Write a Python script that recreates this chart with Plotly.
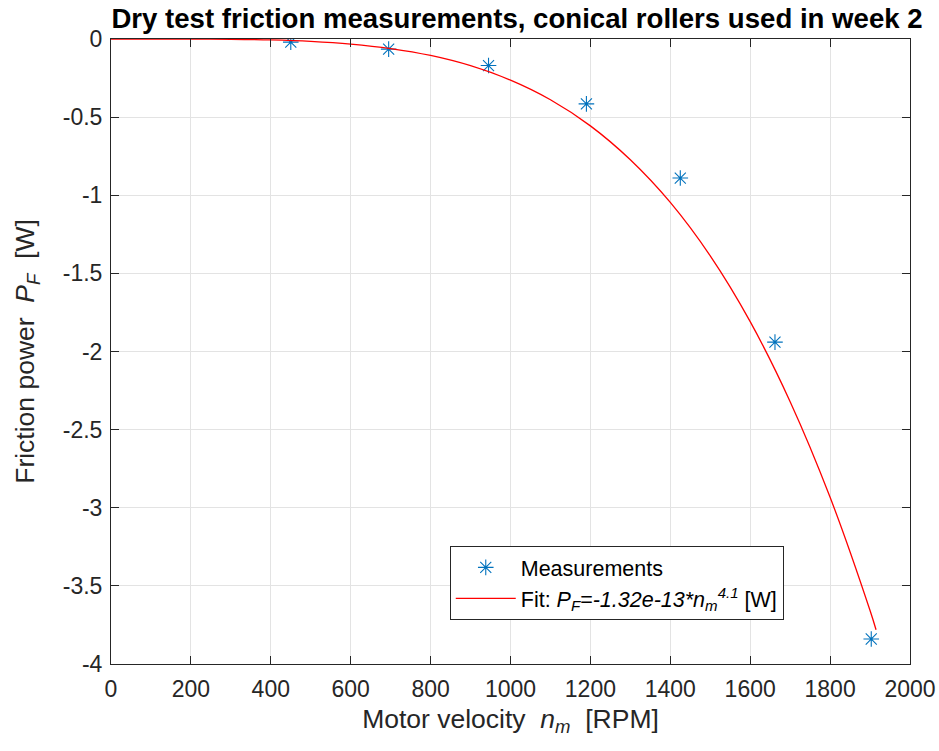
import plotly.graph_objects as go

# Measurements
meas_rpm = [450, 695, 945, 1190, 1425, 1662, 1903]
meas_power = [-0.02, -0.065, -0.17, -0.415, -0.89, -1.94, -3.84]

# Fit curve values
fit_rpm = [0, 100, 200, 300, 400, 500, 600, 700, 800, 900, 1000, 1100, 1200,
           1300, 1400, 1500, 1600, 1700, 1800, 1900, 1915]
fit_power = [0.0, -0.00002, -0.0004, -0.0019, -0.0062, -0.0154, -0.0324, -0.0611,
             -0.1055, -0.171, -0.2635, -0.389, -0.556, -0.773, -1.046, -1.388,
             -1.809, -2.321, -2.933, -3.658, -3.781]

x_ticks = [0, 200, 400, 600, 800, 1000, 1200, 1400, 1600, 1800, 2000]
x_tick_text = ["0", "200", "400", "600", "800", "1000", "1200", "1400", "1600", "1800", "2000"]
y_ticks = [0, -0.5, -1, -1.5, -2, -2.5, -3, -3.5, -4]
y_tick_text = ["0", "-0.5", "-1", "-1.5", "-2", "-2.5", "-3", "-3.5", "-4"]

FONT = "Liberation Sans, Arial, Helvetica, sans-serif"

fig = go.Figure()
fig.add_trace(go.Scatter(
    x=meas_rpm, y=meas_power, mode="markers", name="Measurements",
    marker=dict(symbol="asterisk-open", size=13, color="#0072BD",
                line=dict(width=1.1, color="#0072BD")),
))
fig.add_trace(go.Scatter(
    x=fit_rpm, y=fit_power, mode="lines",
    name="Fit: <i>P</i><sub><i>F</i></sub>=<i>-1.32e-13*n</i><sub><i>m</i></sub><sup><i>4.1</i></sup> [W]",
    line=dict(color="#FF0000", width=1.3, shape="spline"),
))

axis_common = dict(
    showline=True, linecolor="#262626", linewidth=1, mirror="ticks",
    ticks="inside", ticklen=8, tickcolor="#262626",
    showgrid=True, gridcolor="#E3E3E3", gridwidth=1,
    zeroline=False, automargin=False, ticklabeloverflow="allow",
    tickfont=dict(family=FONT, size=23, color="#262626"),
)

fig.update_layout(
    width=939, height=751,
    paper_bgcolor="white", plot_bgcolor="white",
    margin=dict(l=111, r=29, t=39, b=87),
    font=dict(family=FONT, color="#262626"),
    title=dict(
        text="<b>Dry test friction measurements, conical rollers used in week 2</b>",
        x=0.5506, xanchor="center", y=0.976, yanchor="middle",
        font=dict(family=FONT, size=27.6, color="black"),
    ),
    xaxis=dict(range=[0, 2000], tickvals=x_ticks, ticktext=x_tick_text,
               ticklabelstandoff=4,
               title=dict(text="Motor velocity  <i>n</i><sub><i>m</i></sub>  [RPM]",
                          font=dict(family=FONT, size=26.5, color="#262626"), standoff=8),
               **axis_common),
    yaxis=dict(range=[-4, 0], tickvals=y_ticks, ticktext=y_tick_text,
               ticklabelstandoff=3,
               title=dict(text="Friction power  <i>P</i><sub><i>F</i></sub>  [W]",
                          font=dict(family=FONT, size=26.5, color="#262626"), standoff=20),
               **axis_common),
    legend=dict(
        x=0.842, y=0.189, xanchor="right", yanchor="top",
        bgcolor="white", bordercolor="#262626", borderwidth=1,
        font=dict(family=FONT, size=21.5, color="black"),
        itemwidth=60, tracegroupgap=0,
    ),
    showlegend=True,
)

# remove the default page margin so the figure sits at the window's top-left corner
fig.write_html("out.html", config={"displayModeBar": False},
               post_script="document.body.style.margin='0';")
